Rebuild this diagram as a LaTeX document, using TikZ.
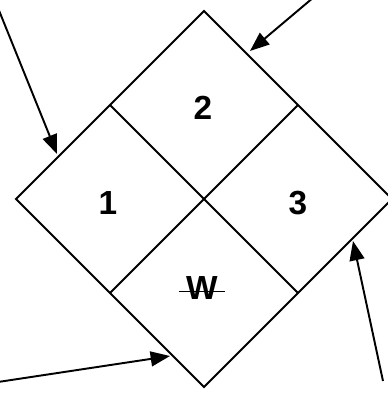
\documentclass[tikz,border=0pt]{standalone}
\usepackage{fontspec}
\setmainfont{Liberation Sans}
\usetikzlibrary{arrows.meta,calc}

\begin{document}
\begin{tikzpicture}[x=0.02cm, y=-0.02cm]

% Stili
\tikzset{
  bordo/.style={line width=1.1pt, line join=miter},
  cella/.style={font=\bfseries\fontsize{19}{19}\selectfont},
  freccia/.style={line width=1.1pt, -{Triangle[length=11pt,width=8.5pt]}}
}

\useasboundingbox (0,0) rectangle (387,393);

% Vertici del rombo
\coordinate (N) at (204,11);
\coordinate (E) at (392,199);
\coordinate (S) at (204,387);
\coordinate (O) at (16,199);

% Punti medi dei lati
\coordinate (NO) at ($(N)!0.5!(O)$);
\coordinate (NE) at ($(N)!0.5!(E)$);
\coordinate (SO) at ($(S)!0.5!(O)$);
\coordinate (SE) at ($(S)!0.5!(E)$);

% Rombo e divisioni
\draw[bordo] (N) -- (E) -- (S) -- (O) -- cycle;
\draw[bordo] (NO) -- (SE);
\draw[bordo] (NE) -- (SO);

% Etichette delle celle
\node[cella] (uno) at (108,203) {1};
\node[cella] (due) at (203,108) {2};
\node[cella] (tre) at (298,203) {3};
\node[cella, inner sep=4pt] (w) at (202,288) {W};
\draw[line width=1.1pt] ([yshift=-2pt]w.west) -- ([yshift=-2pt]w.east);

% Frecce esterne
\coordinate (t1) at (-2,8);
\coordinate (p1) at (57,154);
\coordinate (t2) at (314,-3);
\coordinate (p2) at (250,51);
\coordinate (t3) at (-2,382);
\coordinate (p3) at (170,356);
\coordinate (t4) at (383,381);
\coordinate (p4) at (353,241);

\draw[freccia] (t1) -- (p1);
\draw[freccia] (t2) -- (p2);
\draw[freccia] (t3) -- (p3);
\draw[freccia] (t4) -- (p4);

\end{tikzpicture}
\end{document}
